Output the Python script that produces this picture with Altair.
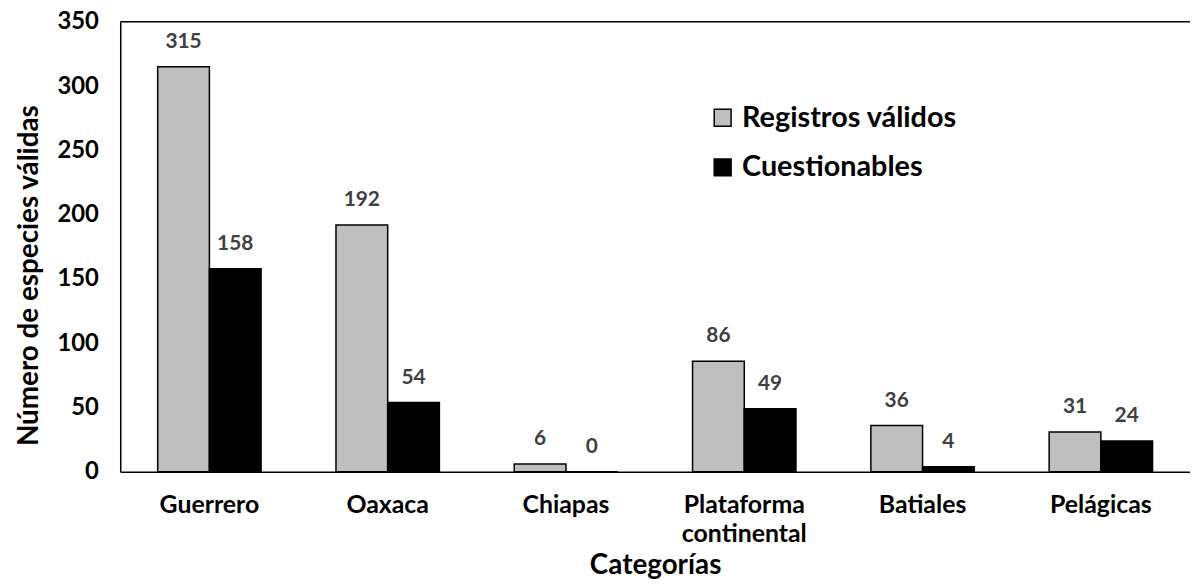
import altair as alt
import pandas as pd

categorias = ["Guerrero", "Oaxaca", "Chiapas", "Plataforma continental", "Batiales", "Pelágicas"]
validos = [315, 192, 6, 86, 36, 31]
cuestionables = [158, 54, 0, 49, 4, 24]
series = ["Registros válidos", "Cuestionables"]
y_ticks = [0, 50, 100, 150, 200, 250, 300, 350]

rows = []
for c, v, q in zip(categorias, validos, cuestionables):
    rows.append({"cat": c, "serie": series[0], "valor": v})
    rows.append({"cat": c, "serie": series[1], "valor": q})
df = pd.DataFrame(rows)

FONT = "Lato"
W, H = 1077, 453

x = alt.X("cat:N", sort=categorias, title="Categorías",
          scale=alt.Scale(paddingInner=0.42, paddingOuter=0.21),
          axis=alt.Axis(labelAngle=0, labelFontSize=25, labelFontWeight="bold", labelColor="black",
                        labelFont=FONT, labelPadding=21, labelLineHeight=29, ticks=False,
                        domainColor="black", domainWidth=1.5, labelLimit=0,
                        labelExpr="datum.label == 'Plataforma continental' ? ['Plataforma', 'continental'] : datum.label",
                        titleFontSize=28, titleFont=FONT, titleFontWeight="bold", titleColor="black",
                        titlePadding=5))
xo = alt.XOffset("serie:N", sort=series)

base = alt.Chart(df)

bars = base.mark_bar(stroke="black", strokeWidth=1.5).encode(
    x=x, xOffset=xo,
    y=alt.Y("valor:Q", title="Número de especies válidas",
            scale=alt.Scale(domain=[0, 350]),
            axis=alt.Axis(values=y_ticks, grid=False, ticks=False,
                          labelFontSize=24, labelFontWeight="bold", labelColor="black", labelFont=FONT,
                          labelPadding=22, domainColor="black", domainWidth=1.5,
                          titleFontSize=28, titleFont=FONT, titleFontWeight="bold", titleColor="black",
                          titlePadding=14, titleY=255)),
    color=alt.Color("serie:N", sort=series,
                    scale=alt.Scale(domain=series, range=["#bfbfbf", "#000000"]),
                    legend=alt.Legend(title=None, orient="none", legendX=592, legendY=82,
                                      symbolType="square", symbolSize=289, symbolStrokeColor="black",
                                      symbolStrokeWidth=1.5, labelFontSize=29, labelFont=FONT,
                                      labelFontWeight="bold", labelColor="black", rowPadding=20,
                                      labelOffset=5, labelLimit=0)),
)

labels = base.mark_text(dy=-25, fontSize=21, fontWeight="bold", font=FONT, color="#404040").encode(
    x=x, xOffset=xo, y="valor:Q", text="valor:Q"
)

top_border = alt.Chart(pd.DataFrame({"v": [0]})).mark_rule(color="black", strokeWidth=1.5).encode(
    x=alt.value(0), x2=alt.value(W), y=alt.value(0)
)

chart = (bars + labels + top_border).properties(
    width=W, height=H,
    padding={"left": 113, "top": 12, "right": 0, "bottom": 114},
    autosize=alt.AutoSizeParams(type="none"),
).configure_view(stroke=None)

chart.save("out.html", embed_options={"renderer": "svg", "actions": False})
